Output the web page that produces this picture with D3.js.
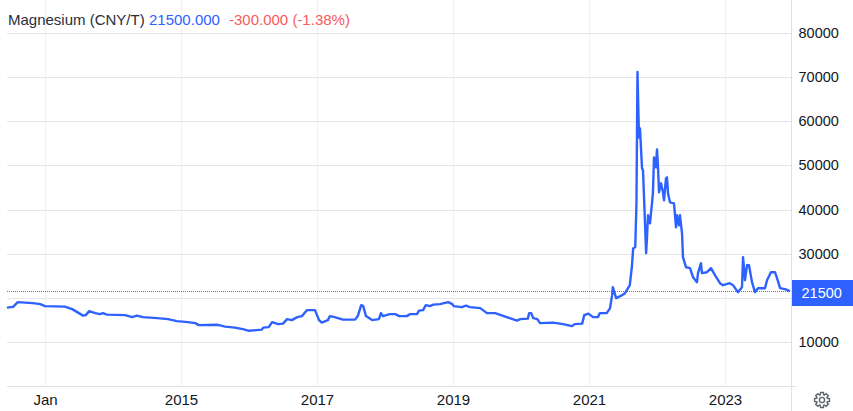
<!DOCTYPE html>
<html><head><meta charset="utf-8">
<script src="https://cdn.jsdelivr.net/npm/d3@7"></script>
<style>html,body{margin:0;padding:0;background:#fff;overflow:hidden}svg{display:block}text{font-family:"Liberation Sans",Arial,sans-serif}</style>
</head><body><svg id="c" width="853" height="411"></svg>
<script>
const years=[2012.44,2012.53,2012.60,2012.82,2012.93,2013.00,2013.29,2013.40,2013.56,2013.60,2013.65,2013.74,2013.81,2013.85,2013.91,2014.18,2014.28,2014.35,2014.44,2014.65,2014.81,2014.94,2015.10,2015.21,2015.26,2015.54,2015.65,2015.79,2015.91,2016.00,2016.19,2016.21,2016.29,2016.34,2016.43,2016.50,2016.56,2016.63,2016.71,2016.78,2016.85,2016.97,2017.03,2017.07,2017.16,2017.19,2017.26,2017.38,2017.56,2017.60,2017.65,2017.68,2017.72,2017.81,2017.91,2017.94,2017.97,2018.07,2018.15,2018.21,2018.32,2018.37,2018.47,2018.50,2018.56,2018.60,2018.66,2018.71,2018.81,2018.93,2018.99,2019.01,2019.13,2019.19,2019.25,2019.40,2019.50,2019.62,2019.79,2019.94,2019.99,2020.10,2020.12,2020.15,2020.18,2020.24,2020.28,2020.47,2020.62,2020.75,2020.79,2020.90,2020.93,2020.99,2021.06,2021.13,2021.16,2021.26,2021.31,2021.34,2021.35,2021.40,2021.46,2021.53,2021.60,2021.63,2021.65,2021.68,2021.698,2021.713,2021.735,2021.75,2021.78,2021.794,2021.80,2021.84,2021.853,2021.868,2021.897,2021.926,2021.94,2021.956,2021.985,2022.00,2022.015,2022.03,2022.059,2022.088,2022.103,2022.132,2022.147,2022.162,2022.191,2022.25,2022.28,2022.294,2022.324,2022.338,2022.368,2022.382,2022.426,2022.485,2022.53,2022.588,2022.603,2022.647,2022.66,2022.735,2022.794,2022.853,2022.926,2022.97,2023.07,2023.118,2023.19,2023.25,2023.265,2023.294,2023.324,2023.353,2023.397,2023.44,2023.485,2023.588,2023.618,2023.676,2023.735,2023.765,2023.81,2023.882,2023.955];
const prices=[17760,17940,19000,18780,18550,18100,17990,17420,15950,16060,16970,16520,16290,16520,16180,16060,15610,15950,15610,15380,15160,14710,14480,14250,13800,13870,13460,13240,12900,12510,12780,13240,13350,14480,14030,14140,15160,14930,15610,15840,17190,17190,14930,14370,14930,15840,15610,15040,15040,15840,18330,18100,15840,14930,15160,16520,15840,16290,16290,15840,15840,16290,16290,17080,17190,18330,18100,18440,18550,19000,18550,18100,17870,18210,17870,17650,16520,16520,15610,14820,15160,15270,16520,16520,15380,15160,14250,14370,14030,13570,14030,14140,16060,16400,15610,15610,16520,16520,17650,20590,22400,19910,20360,21040,22850,26920,31220,31450,41400,71200,56330,58370,49320,48870,46600,30090,33710,38690,36880,41400,43660,51810,49550,53620,49550,43890,45930,43890,42080,47060,47280,43660,41630,41400,35970,38690,36420,38690,34610,29190,26920,26700,24660,23530,25570,27830,25570,25790,26700,25110,23300,22850,23300,22850,21270,22400,29190,23980,27380,27380,23530,21270,22170,22170,23980,25790,25790,24430,22170,21950,21500];
const yTicks=[10000,20000,30000,40000,50000,60000,70000,80000];
const yLabels=[10000,30000,40000,50000,60000,70000,80000];
const xTicks=[2013,2015,2017,2019,2021,2023];
const xLabels=["Jan","2015","2017","2019","2021","2023"];
const lastPrice=21500;
const titleParts=[["Magnesium (CNY/T)","#2a2e39",8],["21500.000","#2e62ff",149],["-300.000 (-1.38%)","#f85a5a",229]];

const svg=d3.select("#c");
const plotL=7,plotR=791,plotB=386;
const x=d3.scaleLinear().domain([2013,2023]).range([45,725]);
const y=d3.scaleLinear().domain([0,80000]).range([plotB,33]);

svg.append("g").selectAll("line").data(xTicks).join("line")
 .attr("x1",d=>x(d)+.5).attr("x2",d=>x(d)+.5).attr("y1",0).attr("y2",plotB).attr("stroke","#f0f0f0");
svg.append("g").selectAll("line").data(yTicks).join("line")
 .attr("x1",plotL).attr("x2",plotR).attr("y1",d=>Math.round(y(d))+.5).attr("y2",d=>Math.round(y(d))+.5).attr("stroke","#e6e6e6");
svg.append("line").attr("x1",plotL).attr("x2",796).attr("y1",plotB+.5).attr("y2",plotB+.5).attr("stroke","#e0e0e0");
svg.append("line").attr("x1",plotR+.5).attr("x2",plotR+.5).attr("y1",0).attr("y2",411).attr("stroke","#e0e0e0");

svg.append("line").attr("x1",plotL).attr("x2",plotR).attr("y1",Math.round(y(lastPrice))+.5).attr("y2",Math.round(y(lastPrice))+.5)
 .attr("stroke","#66789f").attr("stroke-dasharray","1 1");

const line=d3.line().x(d=>x(d[0])).y(d=>y(d[1]));
svg.append("path").attr("d",line(d3.zip(years,prices))).attr("fill","none").attr("stroke","#2e62ff").attr("stroke-width",2.4).attr("stroke-linejoin","round");

svg.append("g").selectAll("text").data(xLabels).join("text")
 .attr("x",(d,i)=>x(xTicks[i])+.5).attr("y",405).attr("text-anchor","middle").attr("font-size",15).attr("fill","#131722").text(d=>d);
svg.append("g").selectAll("text").data(yLabels).join("text")
 .attr("x",798.5).attr("y",d=>y(d)+5).attr("font-size",14.5).attr("fill","#131722").text(d=>d);

svg.append("rect").attr("x",792).attr("y",280).attr("width",61).attr("height",26).attr("fill","#2e62ff");
svg.append("text").attr("x",801.5).attr("y",298).attr("font-size",14.5).attr("fill","#fff").text(lastPrice);

svg.append("g").selectAll("text").data(titleParts).join("text")
 .attr("x",d=>d[2]).attr("y",25).attr("font-size",15).attr("fill",d=>d[1]).text(d=>d[0]);

// settings gear
const gear=svg.append("g").attr("transform","translate(822,400)");
const teeth=8,pts=[];
d3.range(teeth).forEach(i=>{const a=i*2*Math.PI/teeth;
 [[-.30,5.6],[-.20,7.6],[.20,7.6],[.30,5.6]].forEach(o=>pts.push([a+o[0],o[1]]));});
gear.append("path").attr("d",d3.lineRadial().curve(d3.curveLinearClosed)(pts)).attr("fill","none").attr("stroke","#5f626c").attr("stroke-width",1.4);
gear.append("circle").attr("r",2.6).attr("fill","none").attr("stroke","#5f626c").attr("stroke-width",1.4);
</script></body></html>
